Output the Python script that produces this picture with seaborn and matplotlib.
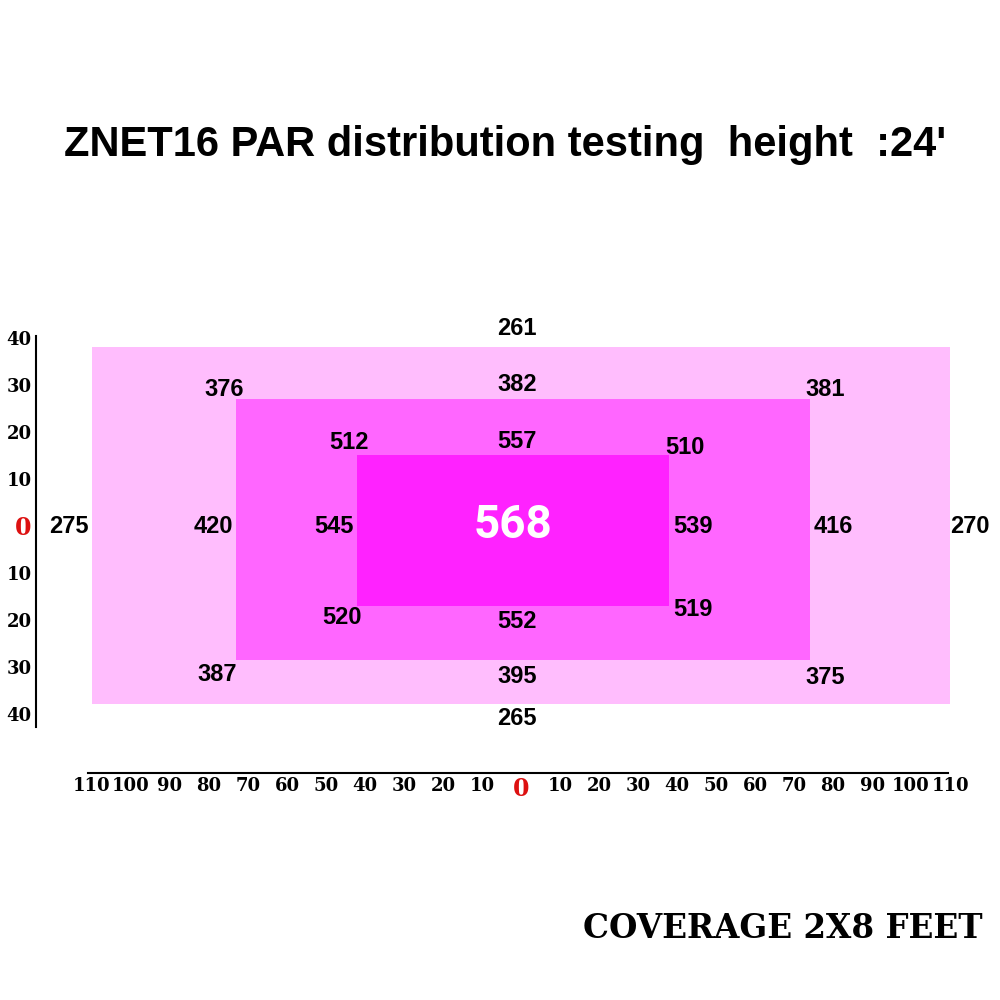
import numpy as np
import pandas as pd
import seaborn as sns
import matplotlib.pyplot as plt

# zones (inches from the centre of the light)
zone_names = ["outer", "middle", "inner"]
zone_left = [-110, -73, -42]
zone_right = [110, 74, 38]
zone_bottom = [-38, -28.5, -17]
zone_top = [38, 27, 15]

# PAR readings and where they were taken
par_values = [261, 382, 376, 381, 512, 557, 510,
              275, 420, 545, 568, 539, 416, 270,
              520, 552, 519, 387, 395, 375, 265]
par_x = [-1, -1, -76, 78, -44, -1, 42,
         -116, -79, -48, -2, 44, 80, 115,
         -46, -1, 44, -78, -1, 78, -1]
par_y = [42, 30, 29, 29, 17.7, 18, 16.6,
         -0.2, -0.2, -0.2, 0.2, -0.2, -0.2, -0.2,
         -19.6, -20.4, -17.9, -31.7, -32, -32.3, -41]

x_ticks = list(range(-110, 111, 10))
y_ticks = list(range(-40, 41, 10))

zone_colors = ["#ffbdfd", "#ff66ff", "#ff22ff"]

sns.set_theme(style="white")
plt.rcParams['font.family'] = ['Liberation Sans', 'DejaVu Sans']

df = pd.DataFrame({"value": par_values, "x": par_x, "y": par_y})

fig = plt.figure(figsize=(10, 10), dpi=100)
ax = fig.add_axes([0, 0, 1, 1])
ax.set_xlim(-133.6, 122.8)
ax.set_ylim(-100.9, 111.9)

# nested coverage zones
for name, l, r, b, t, c in zip(zone_names, zone_left, zone_right, zone_bottom, zone_top, zone_colors):
    ax.bar(l, t - b, width=r - l, bottom=b, align='edge', color=c, linewidth=0)

# readings
for _, row in df.iterrows():
    if row["value"] == max(par_values):
        ax.text(row["x"], row["y"], str(int(row["value"])), ha='center', va='center',
                fontsize=33, fontweight='bold', color='white', family=['Roboto', 'DejaVu Sans'])
    else:
        ax.text(row["x"], row["y"], str(int(row["value"])), ha='center', va='center',
                fontsize=17, fontweight='bold', color='black')

# axes as rulers
for s in ['top', 'right']:
    ax.spines[s].set_visible(False)
ax.spines['left'].set_position(('data', -124.4))
ax.spines['left'].set_bounds(-42.8, 40.4)
ax.spines['bottom'].set_position(('data', -52.6))
ax.spines['bottom'].set_bounds(-111, 109.5)
for s in ['left', 'bottom']:
    ax.spines[s].set_color('black')
    ax.spines[s].set_linewidth(1.5)

ax.set_xticks(x_ticks)
ax.set_xticklabels([str(abs(v)) for v in x_ticks])
ax.set_yticks(y_ticks)
ax.set_yticklabels([str(abs(v)) for v in y_ticks])
ax.tick_params(length=0, pad=3)
for lab in ax.get_xticklabels() + ax.get_yticklabels():
    lab.set_family(['DejaVu Serif'])
    lab.set_fontweight('bold')
    lab.set_fontsize(13)
    lab.set_color('black')
    if lab.get_text() == '0':
        lab.set_color('#dd1111')
        lab.set_fontsize(17)

fig.text(0.505, 0.855, "ZNET16 PAR distribution testing  height  :24'", ha='center', va='center',
         fontsize=30, fontweight='bold', color='black',
         family=['Liberation Sans Narrow', 'Liberation Sans'])
fig.text(0.783, 0.071, "COVERAGE 2X8 FEET", ha='center', va='center',
         fontsize=23.5, fontweight='bold', color='black', family=['DejaVu Serif'])

fig.savefig("out.png", dpi=100)
